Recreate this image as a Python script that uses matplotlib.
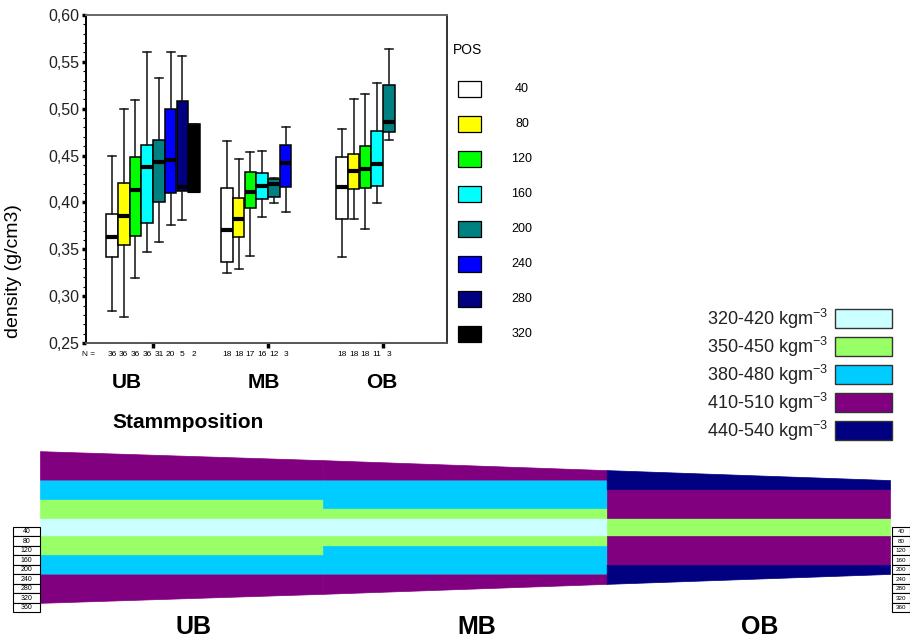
import matplotlib
matplotlib.use("Agg")
import matplotlib.pyplot as plt
from matplotlib.patches import Rectangle
from matplotlib.ticker import MultipleLocator, FuncFormatter

plt.rcParams['font.family'] = ['Liberation Sans', 'DejaVu Sans']
plt.rcParams['mathtext.fontset'] = 'custom'
plt.rcParams['mathtext.rm'] = 'Liberation Sans'

# ---- box plot data (density g/cm3) ----
groups = ["UB", "MB", "OB"]
pos_labels = ["40", "80", "120", "160", "200", "240", "280", "320"]
pos_colors = ["#ffffff", "#ffff00", "#00ff00", "#00ffff",
              "#008080", "#0000ff", "#000080", "#000000"]

# [whislo, q1, med, q3, whishi]
ub_stats = [
    [0.284, 0.342, 0.363, 0.388, 0.450],
    [0.278, 0.355, 0.385, 0.421, 0.500],
    [0.319, 0.364, 0.413, 0.449, 0.509],
    [0.347, 0.378, 0.438, 0.461, 0.560],
    [0.358, 0.400, 0.443, 0.467, 0.533],
    [0.376, 0.410, 0.445, 0.500, 0.561],
    [0.381, 0.412, 0.416, 0.508, 0.556],
    [0.411, 0.411, 0.412, 0.484, 0.484],
]
mb_stats = [
    [0.325, 0.336, 0.371, 0.415, 0.466],
    [0.329, 0.363, 0.382, 0.405, 0.446],
    [0.343, 0.394, 0.411, 0.432, 0.454],
    [0.384, 0.404, 0.418, 0.431, 0.455],
    [0.399, 0.406, 0.420, 0.425, 0.426],
    [0.390, 0.416, 0.442, 0.461, 0.480],
]
ob_stats = [
    [0.342, 0.382, 0.416, 0.449, 0.478],
    [0.382, 0.414, 0.434, 0.452, 0.510],
    [0.372, 0.415, 0.436, 0.460, 0.516],
    [0.399, 0.418, 0.441, 0.476, 0.527],
    [0.467, 0.475, 0.486, 0.525, 0.564],
]
ub_n = [36, 36, 36, 36, 31, 20, 5, 2]
mb_n = [18, 18, 17, 16, 12, 3]
ob_n = [18, 18, 18, 11, 3]

# ---- stem diagram data ----
density_classes = ["320-420", "350-450", "380-480", "410-510", "440-540"]
class_colors = ["#ccffff", "#99ff66", "#00ccff", "#800080", "#000080"]
outer_radius = [320, 282, 240, 198]   # mm at section borders
# (inner mm, outer mm or None = bark, class index)
ub_bands = [(0, 40, 0), (40, 120, 1), (120, 200, 2), (200, None, 3)]
mb_bands = [(0, 40, 0), (40, 80, 1), (80, 200, 2), (200, None, 3)]
ob_bands = [(0, 40, 1), (40, 160, 3), (160, None, 4)]
radial_rows = [40, 80, 120, 160, 200, 240, 280, 320, 360]

W, H = 910, 639
fig = plt.figure(figsize=(W / 100, H / 100), dpi=100)


def fx(px):
    return px / W


def fy(py):
    return 1 - py / H


# ---------------- box plot ----------------
ax = fig.add_axes([fx(86), fy(343), fx(447 - 86), (343 - 15) / H])
slot = 0.1018
all_stats = [ub_stats, mb_stats, ob_stats]
all_n = [ub_n, mb_n, ob_n]
for g, stats in enumerate(all_stats):
    for s, (lo, q1, med, q3, hi) in enumerate(stats):
        x = g + 1 + (s - 3.5) * slot
        st = dict(whislo=lo, q1=q1, med=med, q3=q3, whishi=hi, fliers=[])
        ax.bxp([st], positions=[x], widths=0.1, capwidths=0.07,
               patch_artist=True, showfliers=False,
               boxprops=dict(facecolor=pos_colors[s], edgecolor="black", linewidth=1.1),
               medianprops=dict(color="black", linewidth=3, solid_capstyle="butt"),
               whiskerprops=dict(color="#111111", linewidth=1.1),
               capprops=dict(color="#111111", linewidth=1.1),
               manage_ticks=False)
        ax.text(x, -0.034, str(all_n[g][s]), transform=ax.get_xaxis_transform(),
                ha="center", va="center", fontsize=6)

ax.text(0.417 + 0.02, -0.034, "N =", transform=ax.get_xaxis_transform(),
        ha="center", va="center", fontsize=6)

ax.set_xlim(0.417, 3.557)
ax.set_ylim(0.25, 0.60)
ax.set_xticks([1, 2, 3])
ax.set_xticklabels([])
ax.tick_params(axis="x", direction="out", length=3.5, width=2.5, color="black")
ax.yaxis.set_major_locator(MultipleLocator(0.05))
ax.yaxis.set_minor_locator(MultipleLocator(0.01))
ax.yaxis.set_major_formatter(FuncFormatter(lambda v, p: ("%.2f" % v).replace(".", ",")))
ax.tick_params(axis="y", which="major", direction="out", length=3, width=2.5,
               labelsize=11.5, pad=2, labelcolor="#222222")
ax.tick_params(axis="y", which="minor", direction="out", length=2, width=0.8)
for side, col in [("top", "#666666"), ("bottom", "#555555"),
                  ("right", "#333333"), ("left", "black")]:
    ax.spines[side].set_color(col)
    ax.spines[side].set_linewidth(1.4)
ax.set_ylabel("density (g/cm3)", fontsize=14)
ax.yaxis.set_label_coords(-0.177, 0.22)
ax.yaxis.get_major_ticks()[0].label1.set_verticalalignment("bottom")

# ---------------- stem diagram ----------------
px_per_mm = 0.237
axt = fig.add_axes([0, 0, 1, (H - 440) / H])
axt.set_xlim(-40 / 283.33, 3 + 20 / 283.33)
axt.set_ylim(-(H - 527) / px_per_mm, (527 - 440) / px_per_mm)
axt.axis("off")
for i, bands in enumerate([ub_bands, mb_bands, ob_bands]):
    xs = [i, i + 1]
    rr = outer_radius[i:i + 2]
    for lo, hi, c in bands:
        top = rr if hi is None else [hi, hi]
        col = class_colors[c]
        axt.fill_between(xs, [lo, lo], top, color=col, lw=0.5, edgecolor=col)
        axt.fill_between(xs, [-lo, -lo], [-t for t in top], color=col, lw=0.5, edgecolor=col)

for r in radial_rows:
    for x0, w, fs in [(-0.0953, 0.0953, 5), (3.007, 0.0635, 4.5)]:
        axt.add_patch(Rectangle((x0, -r), w, 40, facecolor="white",
                                edgecolor="black", lw=0.8, clip_on=False))
        axt.text(x0 + w / 2, -r + 20, str(r), fontsize=fs, ha="center", va="center")

for i, name in enumerate(groups):
    axt.text(i + 0.54, -422, name, fontsize=18, fontweight="bold",
             ha="center", va="center")

# ---------------- legends / labels ----------------
ov = fig.add_axes([0, 0, 1, 1])
ov.set_xlim(0, W)
ov.set_ylim(H, 0)
ov.axis("off")

ov.text(453, 50, "POS", fontsize=10, ha="left", va="center")
for i, (lab, col) in enumerate(zip(pos_labels, pos_colors)):
    yc = 89 + 35 * i
    ov.add_patch(Rectangle((458, yc - 8), 23, 16, facecolor=col,
                           edgecolor="black", lw=0.9))
    ov.text(522, yc, lab, fontsize=9, ha="center", va="center")

for i, (lab, col) in enumerate(zip(density_classes, class_colors)):
    yc = 318 + 28 * i
    ov.add_patch(Rectangle((835, yc - 9.5), 57, 19, facecolor=col,
                           edgecolor="#333333", lw=1.0))
    ov.text(828, yc + 1, lab + " kgm$^{-3}$", fontsize=13, ha="right",
            va="center", color="#222222")

for name, xc in zip(groups, [127, 264, 382]):
    ov.text(xc, 383, name, fontsize=15, fontweight="bold", ha="center", va="center")
ov.text(112, 423, "Stammposition", fontsize=15, fontweight="bold",
        ha="left", va="center")

fig.savefig("out.png", dpi=100, facecolor="white")
